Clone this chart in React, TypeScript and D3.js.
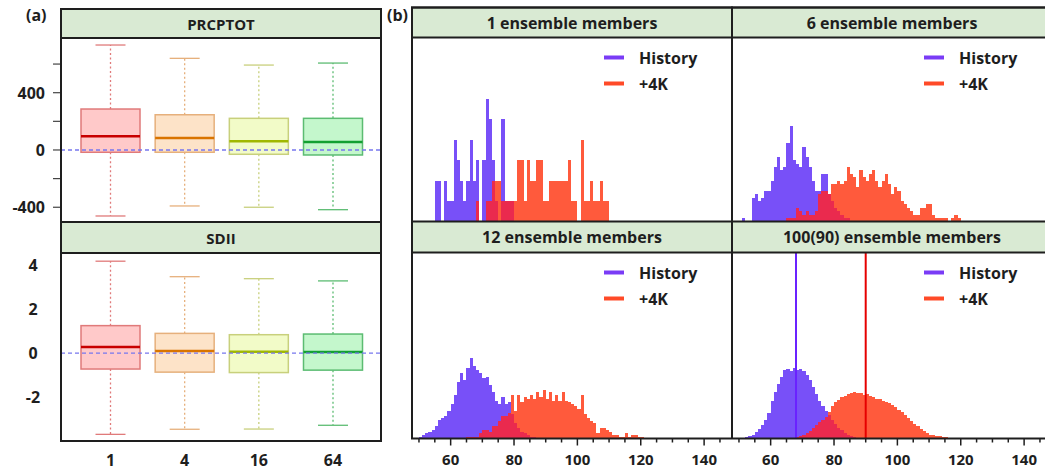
import * as d3 from "d3";

// ---------- (a) box plots: whisker low, Q1, median, Q3, whisker high ----------
const boxCats = ["1", "4", "16", "64"];

const prcpLow = [-461, -391, -400, -417];
const prcpQ1 = [-16, -16, -30, -35];
const prcpMed = [95, 84, 61, 56];
const prcpQ3 = [286, 246, 221, 221];
const prcpHigh = [733, 640, 593, 607];
const prcpTicks = [-400, -200, 0, 200, 400, 600];
const prcpLabels = [-400, 0, 400];

const sdiiLow = [-3.67, -3.44, -3.43, -3.26];
const sdiiQ1 = [-0.72, -0.86, -0.88, -0.77];
const sdiiMed = [0.28, 0.1, 0.06, 0.05];
const sdiiQ3 = [1.24, 0.89, 0.83, 0.86];
const sdiiHigh = [4.15, 3.45, 3.36, 3.26];
const sdiiLabels = [-2, 0, 2, 4];

// ---------- (b) histograms: counts per 1-unit bin, first bin in *Start ----------
const hist1HistoryStart = 55;
const hist1History = [2, 2, 0, 2, 1, 1, 4, 3, 2, 1, 2, 4, 2, 3, 0, 3, 6, 5, 3, 1, 0, 5, 1, 1, 1];
const hist1WarmStart = 68;
const hist1Warm = [1, 0, 0, 1, 1, 2, 2, 2, 1, 1, 1, 1, 1, 3, 3, 1, 3, 2, 2, 3, 3, 1, 1, 2, 2, 2, 2, 2, 2, 3, 1, 1, 0, 4, 1, 1, 2, 1, 1, 2, 1, 1];

const hist6HistoryStart = 51;
const hist6History = [1, 0, 0, 7, 8, 6, 7, 9, 9, 12, 16, 19, 15, 16, 23, 28, 18, 17, 16, 22, 19, 16, 12, 9, 9, 14, 14, 8, 6, 4, 3, 2, 1, 1];
const hist6WarmStart = 65;
const hist6Warm = [1, 1, 1, 4, 3, 2, 3, 2, 2, 3, 8, 9, 9, 8, 11, 11, 12, 11, 12, 16, 14, 13, 10, 15, 13, 12, 14, 15, 12, 10, 12, 14, 11, 8, 10, 9, 6, 5, 4, 3, 2, 2, 4, 4, 5, 5, 2, 1, 1, 1, 1, 0, 1, 2, 1];

const hist12HistoryStart = 50;
const hist12History = [1, 2, 3, 4, 5, 7, 11, 12, 13, 16, 20, 25, 33, 38, 34, 41, 47, 42, 40, 38, 35, 36, 31, 27, 22, 20, 24, 20, 21, 14, 9, 6, 4, 3, 2, 1, 1];
const hist12WarmStart = 65;
const hist12Warm = [1, 1, 1, 1, 3, 5, 5, 4, 7, 7, 10, 13, 13, 15, 25, 16, 25, 21, 24, 23, 25, 23, 27, 24, 28, 23, 27, 22, 25, 22, 27, 22, 21, 20, 19, 17, 25, 14, 12, 10, 9, 3, 6, 6, 5, 4, 2, 2, 1, 1, 3, 1, 2, 2, 1, 1];

const hist100HistoryStart = 50;
const hist100History = [2, 4, 7, 10, 17, 26, 40, 58, 80, 110, 160, 200, 235, 265, 295, 300, 290, 305, 295, 300, 290, 275, 250, 220, 190, 160, 140, 120, 100, 80, 62, 47, 35, 25, 17, 11, 7, 4, 2];
const hist100WarmStart = 66;
const hist100Warm = [2, 4, 6, 9, 14, 23, 33, 47, 57, 69, 80, 91, 112, 141, 155, 167, 177, 184, 191, 195, 198, 194, 196, 187, 190, 184, 177, 172, 170, 162, 158, 152, 144, 134, 124, 112, 101, 88, 76, 62, 52, 43, 33, 23, 17, 14, 11, 9, 7, 6, 4, 3, 2, 1];
const hist100MeanHistory = 68;
const hist100MeanWarm = 90;

const histTitles = ["1 ensemble members", "6 ensemble members", "12 ensemble members", "100(90) ensemble members"];
const histYMax = [9, 54, 108, 800];
const histXMajor = [60, 80, 100, 120, 140];
const histXDomain = [47.8, 148.8];

const FONT = "'Open Sans', 'DejaVu Sans', sans-serif";
const INK = "#1e1e1e";
const STRIP = "#d9ead3";

const boxFill = ["#ffc9c9", "#fde3c8", "#f2fbc8", "#c4f7cc"];
const boxLine = ["#e07a7a", "#e6b07c", "#c8d07c", "#5cbc72"];
const boxMed = ["#c80000", "#d97400", "#a0b800", "#12a032"];

const BLUE = "#7850f8";
const RED = "#ff5a3c";
const OVERLAP = "#ea2a4e";

const xBox = d3.scalePoint<string>().domain(boxCats).range([110.5, 333]);

function Strip({ x0, x1, y0, y1, title, size }: any) {
  return (
    <g>
      <rect x={x0} y={y0} width={x1 - x0} height={y1 - y0} fill={STRIP} stroke={INK} strokeWidth={2} />
      <text x={(x0 + x1) / 2} y={(y0 + y1) / 2} textAnchor="middle" dominantBaseline="central"
        fontFamily={FONT} fontWeight="bold" fontSize={size} fill={INK}>{title}</text>
    </g>
  );
}

function BoxPanel({ x0, x1, y0, y1, domain, low, q1, med, q3, high, ticks, labels, labelAnchor, labelX }: any) {
  const y = d3.scaleLinear().domain(domain).range([y1, y0]);
  return (
    <g>
      {boxCats.map((c, i) => {
        const cx = xBox(c)!;
        return (
          <g key={c}>
            <line x1={cx} x2={cx} y1={y(q3[i])} y2={y(high[i])} stroke={boxLine[i]} strokeWidth={1.3} strokeDasharray="2,2.5" />
            <line x1={cx} x2={cx} y1={y(q1[i])} y2={y(low[i])} stroke={boxLine[i]} strokeWidth={1.3} strokeDasharray="2,2.5" />
            <line x1={cx - 15} x2={cx + 15} y1={y(high[i])} y2={y(high[i])} stroke={boxLine[i]} strokeWidth={1.3} />
            <line x1={cx - 15} x2={cx + 15} y1={y(low[i])} y2={y(low[i])} stroke={boxLine[i]} strokeWidth={1.3} />
            <rect x={cx - 29.5} y={y(q3[i])} width={59} height={y(q1[i]) - y(q3[i])}
              fill={boxFill[i]} stroke={boxLine[i]} strokeWidth={1.5} />
            <line x1={cx - 29.5} x2={cx + 29.5} y1={y(med[i])} y2={y(med[i])} stroke={boxMed[i]} strokeWidth={2.5} />
          </g>
        );
      })}
      <line x1={x0} x2={x1} y1={y(0)} y2={y(0)} stroke="#7777ee" strokeWidth={1.3} strokeDasharray="4,3" />
      {ticks.map((t: number) => (
        <line key={t} x1={x0 - 8} x2={x0} y1={y(t)} y2={y(t)} stroke="#444" strokeWidth={1.2} />
      ))}
      {labels.map((t: number) => (
        <text key={t} x={labelX} y={y(t)} textAnchor={labelAnchor} dominantBaseline="central"
          fontFamily={FONT} fontWeight="bold" fontSize={16} fill={INK}>{t}</text>
      ))}
    </g>
  );
}

function Bars({ xs, ys, start, counts, fill }: any) {
  return (
    <g>
      {counts.map((c: number, i: number) =>
        c > 0 ? (
          <rect key={i} x={xs(start + i)} width={xs(start + i + 1) - xs(start + i)}
            y={ys(c)} height={ys(0) - ys(c)} fill={fill} shapeRendering="crispEdges" />
        ) : null
      )}
    </g>
  );
}

function HistPanel({ x0, y0, y1, yMax, hStart, hist, wStart, warm, means, axis }: any) {
  const xs = d3.scaleLinear().domain(histXDomain).range([x0, x0 + 320]);
  const ys = d3.scaleLinear().domain([0, yMax]).range([y1, y0]);
  // overlap of the two histograms, bin by bin
  const oStart = Math.max(hStart, wStart);
  const oEnd = Math.min(hStart + hist.length, wStart + warm.length);
  const overlap = d3.range(oStart, oEnd).map((b) => Math.min(hist[b - hStart], warm[b - wStart]));
  const ticks = d3.range(50, 146, 5);
  return (
    <g>
      <Bars xs={xs} ys={ys} start={hStart} counts={hist} fill={BLUE} />
      <Bars xs={xs} ys={ys} start={wStart} counts={warm} fill={RED} />
      <Bars xs={xs} ys={ys} start={oStart} counts={overlap} fill={OVERLAP} />
      {means && (
        <g>
          <line x1={xs(means[0])} x2={xs(means[0])} y1={y0} y2={y1} stroke="#6a22ff" strokeWidth={2} />
          <line x1={xs(means[1])} x2={xs(means[1])} y1={y0} y2={y1} stroke="#e60000" strokeWidth={2} />
        </g>
      )}
      <line x1={x0 + 192} x2={x0 + 212} y1={y0 + 20} y2={y0 + 20} stroke="#7a3cf6" strokeWidth={4} />
      <text x={x0 + 227} y={y0 + 20} dominantBaseline="central" fontFamily={FONT} fontWeight="bold" fontSize={16} fill={INK}>History</text>
      <line x1={x0 + 192} x2={x0 + 212} y1={y0 + 46} y2={y0 + 46} stroke="#ff4a28" strokeWidth={4} />
      <text x={x0 + 227} y={y0 + 46} dominantBaseline="central" fontFamily={FONT} fontWeight="bold" fontSize={16} fill={INK}>+4K</text>
      {axis && (
        <g>
          {ticks.map((t) => (
            <line key={t} x1={xs(t)} x2={xs(t)} y1={y1} y2={y1 + (t % 20 === 0 ? 7 : 4)} stroke={INK} strokeWidth={1.5} />
          ))}
          {histXMajor.map((t) => (
            <text key={t} x={xs(t)} y={465} textAnchor="middle" fontFamily={FONT} fontWeight="bold" fontSize={15} fill={INK}>{t}</text>
          ))}
        </g>
      )}
    </g>
  );
}

export default function App() {
  const L = { x0: 61, x1: 381 };
  const R = { x0: 412, mid: 732, x1: 1052 };
  const rTop = [7.5, 37.5, 221.5];
  const rBot = [221.5, 252.5, 438.5];
  return (
    <svg width={1045} height={472} style={{ position: "absolute", left: 0, top: 0, background: "#fff" }}>
      <rect width={1045} height={472} fill="#fff" />

      {/* (a) */}
      <text x={26} y={21} fontFamily={FONT} fontWeight="bold" fontSize={16} fill={INK}>(a)</text>
      <BoxPanel x0={L.x0} x1={L.x1} y0={38} y1={222} domain={[-503, 782]}
        low={prcpLow} q1={prcpQ1} med={prcpMed} q3={prcpQ3} high={prcpHigh}
        ticks={prcpTicks} labels={prcpLabels} labelAnchor="end" labelX={45} />
      <BoxPanel x0={L.x0} x1={L.x1} y0={253} y1={441} domain={[-3.97, 4.52]}
        low={sdiiLow} q1={sdiiQ1} med={sdiiMed} q3={sdiiQ3} high={sdiiHigh}
        ticks={[]} labels={sdiiLabels} labelAnchor="middle" labelX={33} />
      <Strip x0={L.x0} x1={L.x1} y0={9} y1={38} title="PRCPTOT" size={15} />
      <Strip x0={L.x0} x1={L.x1} y0={222} y1={253} title="SDII" size={15} />
      <rect x={L.x0} y={9} width={L.x1 - L.x0} height={441 - 9} fill="none" stroke={INK} strokeWidth={2} />
      {boxCats.map((c) => (
        <text key={c} x={xBox(c)} y={466} textAnchor="middle" fontFamily={FONT} fontWeight="bold" fontSize={16} fill={INK}>{c}</text>
      ))}

      {/* (b) */}
      <text x={387} y={21} fontFamily={FONT} fontWeight="bold" fontSize={16} fill={INK}>(b)</text>
      <HistPanel x0={R.x0} y0={rTop[1]} y1={rTop[2]} yMax={histYMax[0]}
        hStart={hist1HistoryStart} hist={hist1History} wStart={hist1WarmStart} warm={hist1Warm} />
      <HistPanel x0={R.mid} y0={rTop[1]} y1={rTop[2]} yMax={histYMax[1]}
        hStart={hist6HistoryStart} hist={hist6History} wStart={hist6WarmStart} warm={hist6Warm} />
      <HistPanel x0={R.x0} y0={rBot[1]} y1={rBot[2]} yMax={histYMax[2]}
        hStart={hist12HistoryStart} hist={hist12History} wStart={hist12WarmStart} warm={hist12Warm} axis />
      <HistPanel x0={R.mid} y0={rBot[1]} y1={rBot[2]} yMax={histYMax[3]}
        hStart={hist100HistoryStart} hist={hist100History} wStart={hist100WarmStart} warm={hist100Warm}
        means={[hist100MeanHistory, hist100MeanWarm]} axis />
      <Strip x0={R.x0} x1={R.mid} y0={rTop[0]} y1={rTop[1]} title={histTitles[0]} size={16} />
      <Strip x0={R.mid} x1={R.x1} y0={rTop[0]} y1={rTop[1]} title={histTitles[1]} size={16} />
      <Strip x0={R.x0} x1={R.mid} y0={rBot[0]} y1={rBot[1]} title={histTitles[2]} size={16} />
      <Strip x0={R.mid} x1={R.x1} y0={rBot[0]} y1={rBot[1]} title={histTitles[3]} size={16} />
      <rect x={R.x0} y={rTop[0]} width={R.x1 - R.x0} height={rBot[2] - rTop[0]} fill="none" stroke={INK} strokeWidth={2} />
      <line x1={R.mid} x2={R.mid} y1={rTop[0]} y2={rBot[2]} stroke={INK} strokeWidth={2} />
    </svg>
  );
}
